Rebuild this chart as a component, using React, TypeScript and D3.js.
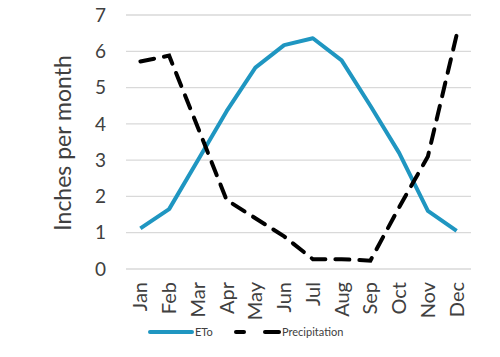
import React from "react";
import * as d3 from "d3";

const months = ["Jan","Feb","Mar","Apr","May","Jun","Jul","Aug","Sep","Oct","Nov","Dec"];
const eto = [1.12, 1.65, 3.0, 4.35, 5.55, 6.17, 6.36, 5.75, 4.5, 3.2, 1.6, 1.05];
const precip = [5.72, 5.88, 3.9, 1.9, 1.4, 0.9, 0.27, 0.27, 0.23, 1.7, 3.1, 6.45];
const yTicks = [0, 1, 2, 3, 4, 5, 6, 7];

const W = 500, H = 357;
const left = 126, right = 471, top = 15, bottom = 269;
const font = "Lato, 'Open Sans', sans-serif";

export default function App() {
  const x = d3.scaleBand<string>().domain(months).range([left, right]);
  const y = d3.scaleLinear().domain([0, 7]).range([bottom, top]);
  const cx = (m: string) => (x(m) as number) + x.bandwidth() / 2;
  const line = d3.line<number>().x((_, i) => cx(months[i])).y((d) => y(d));
  return (
    <svg width={W} height={H} style={{ position: "absolute", left: 0, top: 0, background: "#fff" }}>
      {yTicks.map((t) => (
        <g key={t}>
          <line x1={left} x2={right} y1={y(t)} y2={y(t)} stroke="#d9d9d9" strokeWidth={1.3} />
          <text x={106} y={y(t)} dy="0.35em" textAnchor="end" fontFamily={font} fontSize={19} fill="#404040">{t}</text>
        </g>
      ))}
      <text transform={`translate(71,${(top + bottom) / 2 + 1}) rotate(-90)`} textAnchor="middle" fontFamily={font} fontSize={23} fill="#404040">Inches per month</text>
      {months.map((m) => (
        <text key={m} transform={`translate(${cx(m)},${bottom + 13}) rotate(-90)`} textAnchor="end" dy="0.35em" fontFamily={font} fontSize={20} fill="#404040">{m}</text>
      ))}
      <path d={line(eto) as string} fill="none" stroke="#1f96c1" strokeWidth={4} strokeLinejoin="round" />
      <path d={line(precip) as string} fill="none" stroke="#000" strokeWidth={4} strokeDasharray="14 10" strokeLinecap="round" />
      <line x1={150} x2={192} y1={332} y2={332} stroke="#1f96c1" strokeWidth={4} strokeLinecap="round" />
      <text x={195} y={332} dy="0.35em" fontFamily={font} fontSize={11} fill="#404040">ETo</text>
      <line x1={236} x2={244} y1={332} y2={332} stroke="#000" strokeWidth={4} strokeLinecap="round" />
      <line x1={265} x2={279} y1={332} y2={332} stroke="#000" strokeWidth={4} strokeLinecap="round" />
      <text x={282} y={332} dy="0.35em" fontFamily={font} fontSize={11} fill="#404040">Precipitation</text>
    </svg>
  );
}
